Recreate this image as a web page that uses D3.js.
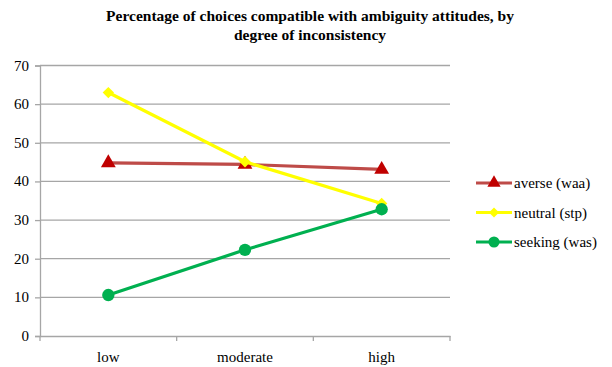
<!DOCTYPE html>
<html><head><meta charset="utf-8">
<script src="https://cdn.jsdelivr.net/npm/d3@7"></script>
</head><body style="margin:0">
<svg id="c" width="612" height="367"></svg>
<script>
const categories = ["low", "moderate", "high"];
const averse = [44.8, 44.4, 43.1];
const neutral = [63.0, 45.1, 34.3];
const seeking = [10.6, 22.3, 32.8];
const yTicks = [0, 10, 20, 30, 40, 50, 60, 70];
const seriesNames = ["averse (waa)", "neutral (stp)", "seeking (was)"];

const series = [
  {name: seriesNames[0], values: averse, line: "#be4b48", fill: "#c00000", sym: d3.symbolTriangle, size: 95, rot: 0},
  {name: seriesNames[1], values: neutral, line: "#ffff00", fill: "#ffff00", sym: d3.symbolSquare, size: 64, rot: 45},
  {name: seriesNames[2], values: seeking, line: "#00b050", fill: "#00b050", sym: d3.symbolCircle, size: 120, rot: 0}
];

const svg = d3.select("#c");
const x = d3.scaleBand().domain(categories).range([40, 450]);
const y = d3.scaleLinear().domain([0, 70]).range([336, 65.5]);

// gridlines
svg.append("g").selectAll("line").data(yTicks.slice(1)).join("line")
  .attr("x1", 40).attr("x2", 450).attr("y1", d => y(d)).attr("y2", d => y(d))
  .attr("stroke", "#a6a6a6").attr("stroke-width", 1.3);

// y axis (lines only)
const ya = svg.append("g").attr("transform", "translate(40,0)")
  .call(d3.axisLeft(y).tickValues(yTicks).tickSize(5).tickFormat(""));
ya.select(".domain").attr("stroke", "#a6a6a6").attr("stroke-width", 1.3);
ya.selectAll(".tick line").attr("stroke", "#a6a6a6").attr("stroke-width", 1.3);
ya.selectAll("text").remove();

// x axis (line only)
const xa = svg.append("g").attr("transform", "translate(0,336)")
  .call(d3.axisBottom(x).tickSize(0).tickFormat(""));
xa.select(".domain").attr("stroke", "#a6a6a6").attr("stroke-width", 1.3);
xa.selectAll("text").remove();
svg.append("g").selectAll("line").data(d3.range(categories.length + 1)).join("line")
  .attr("x1", i => x.range()[0] + i * x.step()).attr("x2", i => x.range()[0] + i * x.step())
  .attr("y1", 336).attr("y2", 341).attr("stroke", "#a6a6a6").attr("stroke-width", 1.3);

// labels as plain texts placed directly on svg
svg.selectAll("text.yl").data(yTicks).join("text").attr("class", "yl")
  .attr("x", 29).attr("y", d => y(d) + 5).attr("text-anchor", "end")
  .attr("font-size", 15).style("font-family", '"Liberation Serif"').text(d => d);
svg.selectAll("text.xl").data(categories).join("text").attr("class", "xl")
  .attr("x", d => x(d) + x.bandwidth() / 2).attr("y", 362).attr("text-anchor", "middle")
  .attr("font-size", 15).style("font-family", '"Liberation Serif"').text(d => d);

svg.append("text").attr("x", 310).attr("y", 21).attr("text-anchor", "middle")
  .attr("font-size", 15.5).attr("font-weight", "bold").style("font-family", '"Liberation Serif"')
  .text("Percentage of choices compatible with ambiguity attitudes, by");
svg.append("text").attr("x", 310).attr("y", 40).attr("text-anchor", "middle")
  .attr("font-size", 15.5).attr("font-weight", "bold").style("font-family", '"Liberation Serif"')
  .text("degree of inconsistency");

const cx = d => x(d) + x.bandwidth() / 2;
const line = d3.line().x((v, i) => cx(categories[i])).y(v => y(v));

series.forEach(s => {
  const g = svg.append("g");
  g.append("path").datum(s.values).attr("d", line).attr("fill", "none")
    .attr("stroke", s.line).attr("stroke-width", 3.2);
  g.selectAll("path.m").data(s.values).join("path").attr("class", "m")
    .attr("transform", (v, i) => `translate(${cx(categories[i])},${y(v)}) rotate(${s.rot})`)
    .attr("d", d3.symbol().type(s.sym).size(s.size)).attr("fill", s.fill);
});

// legend
series.forEach((s, i) => {
  const yy = 183 + i * 29.5;
  svg.append("line").attr("x1", 476).attr("x2", 512).attr("y1", yy).attr("y2", yy)
    .attr("stroke", s.line).attr("stroke-width", 3.2);
  svg.append("path").attr("transform", `translate(494,${yy}) rotate(${s.rot})`)
    .attr("d", d3.symbol().type(s.sym).size(s.size * 0.8)).attr("fill", s.fill);
  svg.append("text").attr("x", 514).attr("y", yy + 5)
    .attr("font-size", 15).style("font-family", '"Liberation Serif"').text(s.name);
});
</script>
</body></html>
